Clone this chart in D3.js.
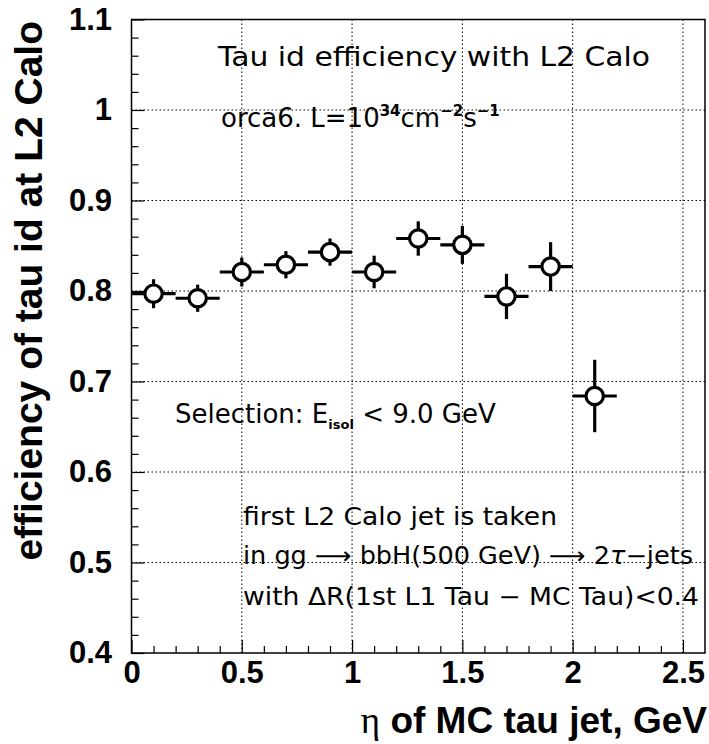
<!DOCTYPE html>
<html><head><meta charset="utf-8">
<script src="https://cdn.jsdelivr.net/npm/d3@7"></script>
<style>body{margin:0;background:#fff}</style></head>
<body>
<svg id="c" width="709" height="744"></svg>
<script>
// ---- data ----
const etaCenters = [0.1, 0.3, 0.5, 0.7, 0.9, 1.1, 1.3, 1.5, 1.7, 1.9, 2.1];
const etaHalfBin = [0.1, 0.1, 0.1, 0.1, 0.1, 0.1, 0.1, 0.1, 0.1, 0.1, 0.1];
const efficiency = [0.797, 0.792, 0.821, 0.829, 0.843, 0.821, 0.858, 0.851, 0.794, 0.827, 0.684];
const effError   = [0.016, 0.015, 0.016, 0.015, 0.015, 0.018, 0.019, 0.021, 0.025, 0.027, 0.040];
const xTickValues = [0, 0.5, 1, 1.5, 2, 2.5];
const xTickLabels = ["0", "0.5", "1", "1.5", "2", "2.5"];
const yTickValues = [0.4, 0.5, 0.6, 0.7, 0.8, 0.9, 1.0, 1.1];
const yTickLabels = ["0.4", "0.5", "0.6", "0.7", "0.8", "0.9", "1", "1.1"];
const xDomain = [0, 2.6];
const yDomain = [0.4, 1.1];

// ---- layout ----
const L = 131.5, R = 705, T = 19.5, B = 653;
const svg = d3.select("#c");
const x = d3.scaleLinear().domain(xDomain).range([L, R]);
const y = d3.scaleLinear().domain(yDomain).range([B, T]);
const tickFont = "Liberation Sans, Arial, sans-serif";

// grid (dotted)
const g = svg.append("g");
g.selectAll("line.gx").data(xTickValues.filter(v => v > 0)).enter().append("line")
  .attr("x1", d => x(d)).attr("x2", d => x(d)).attr("y1", T).attr("y2", B)
  .attr("stroke", "#000").attr("stroke-width", 1).attr("stroke-dasharray", "1.5,2.5");
g.selectAll("line.gy").data(yTickValues.filter(v => v > 0.4 && v < 1.1)).enter().append("line")
  .attr("x1", L).attr("x2", R).attr("y1", d => y(d)).attr("y2", d => y(d))
  .attr("stroke", "#000").attr("stroke-width", 1).attr("stroke-dasharray", "1.5,2.5");

// axes with d3
const xMinor = d3.range(0, 26).map(i => i / 10).filter(v => !xTickValues.some(t => Math.abs(t - v) < 1e-6));
const yMinor = d3.range(20, 55).map(i => i / 50).filter(v => !yTickValues.some(t => Math.abs(t - v) < 1e-6));

const xAxis = svg.append("g").attr("transform", `translate(0,${B})`)
  .call(d3.axisBottom(x).tickValues(xTickValues).tickFormat((d, i) => xTickLabels[i]).tickSizeInner(-13).tickSizeOuter(0).tickPadding(8));
xAxis.select(".domain").remove();
xAxis.selectAll("text").attr("font-family", tickFont).attr("font-weight", "bold").attr("font-size", 31).attr("fill", "#000");
xAxis.selectAll("line").attr("stroke-width", 1.2);
const xAxisMinor = svg.append("g").attr("transform", `translate(0,${B})`)
  .call(d3.axisBottom(x).tickValues(xMinor).tickFormat("").tickSizeInner(-7).tickSizeOuter(0));
xAxisMinor.select(".domain").remove();
xAxisMinor.selectAll("line").attr("stroke-width", 1.2);

const yAxis = svg.append("g").attr("transform", `translate(${L},0)`)
  .call(d3.axisLeft(y).tickValues(yTickValues).tickFormat((d, i) => yTickLabels[i]).tickSizeInner(-13).tickSizeOuter(0).tickPadding(19.5));
yAxis.select(".domain").remove();
yAxis.selectAll("text").attr("font-family", tickFont).attr("font-weight", "bold").attr("font-size", 31).attr("fill", "#000");
yAxis.selectAll("line").attr("stroke-width", 1.2);
const yAxisMinor = svg.append("g").attr("transform", `translate(${L},0)`)
  .call(d3.axisLeft(y).tickValues(yMinor).tickFormat("").tickSizeInner(-7).tickSizeOuter(0));
yAxisMinor.select(".domain").remove();
yAxisMinor.selectAll("line").attr("stroke-width", 1.2);

// frame
svg.append("rect").attr("x", L).attr("y", T).attr("width", R - L).attr("height", B - T)
  .attr("fill", "none").attr("stroke", "#000").attr("stroke-width", 1.5);

// axis titles
svg.append("text").attr("x", 707).attr("y", 733).attr("text-anchor", "end")
  .attr("font-family", tickFont).attr("font-weight", "bold").attr("font-size", 37)
  .html('<tspan font-weight="normal" font-family="Liberation Serif, serif">η</tspan> of MC tau jet, GeV');
svg.append("text").attr("transform", "translate(42,21) rotate(-90)").attr("text-anchor", "end")
  .attr("font-family", tickFont).attr("font-weight", "bold").attr("font-size", 39)
  .text("efficiency of tau id at L2 Calo");

// data points
const pts = svg.append("g");
const data = etaCenters.map((c, i) => ({c, h: etaHalfBin[i], v: efficiency[i], e: effError[i]}));
pts.selectAll("line.h").data(data).enter().append("line")
  .attr("x1", d => x(d.c - d.h)).attr("x2", d => x(d.c + d.h))
  .attr("y1", d => y(d.v)).attr("y2", d => y(d.v))
  .attr("stroke", "#000").attr("stroke-width", 3.2);
pts.selectAll("line.v").data(data).enter().append("line")
  .attr("x1", d => x(d.c)).attr("x2", d => x(d.c))
  .attr("y1", d => y(d.v - d.e)).attr("y2", d => y(d.v + d.e))
  .attr("stroke", "#000").attr("stroke-width", 3.2);
pts.selectAll("circle").data(data).enter().append("circle")
  .attr("cx", d => x(d.c)).attr("cy", d => y(d.v)).attr("r", 8.7)
  .attr("fill", "#fff").attr("stroke", "#000").attr("stroke-width", 3.2);

// annotations
const annFont = "DejaVu Sans, sans-serif";
function ann(xp, yp, html, w, fs) {
  const t = svg.append("text").attr("x", xp).attr("y", yp)
    .attr("font-family", annFont).attr("font-size", fs).attr("fill", "#000").html(html);
  if (w) t.attr("textLength", w).attr("lengthAdjust", "spacingAndGlyphs");
  return t;
}
ann(218, 66, "Tau id efficiency with L2 Calo", 432, 26);
ann(221, 127, 'orca6. L=10<tspan dy="-11" font-size="15" font-weight="bold">34</tspan><tspan dy="11">cm</tspan><tspan dy="-11" font-size="15" font-weight="bold">−2</tspan><tspan dy="11">s</tspan><tspan dy="-11" font-size="15" font-weight="bold">−1</tspan>', null, 26);
ann(175, 423, 'Selection: E<tspan dy="6" font-size="13" font-weight="bold">isol</tspan><tspan dy="-6"> &lt; 9.0 GeV</tspan>', null, 26);
ann(243, 525, "first L2 Calo jet is taken", 314, 24);
ann(243, 564, "in gg ⟶ bbH(500 GeV) ⟶ 2<tspan font-style=\"italic\">τ</tspan>−jets", 450, 24);
ann(243, 605, "with ΔR(1st L1 Tau − MC Tau)&lt;0.4", 456, 24);
</script>
</body></html>
